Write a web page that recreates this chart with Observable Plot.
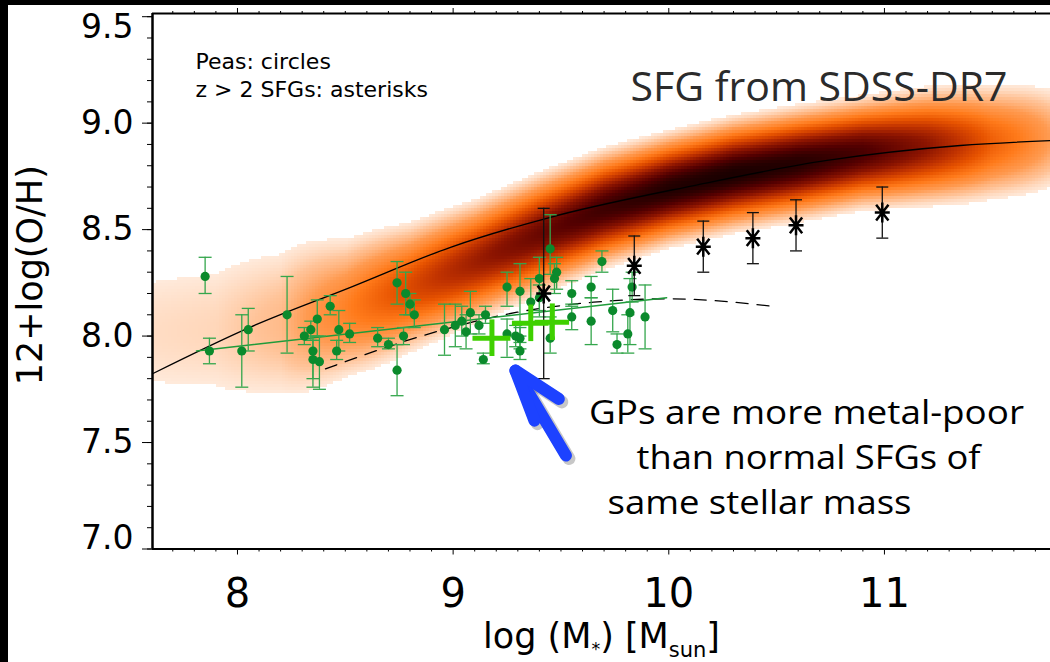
<!DOCTYPE html>
<html><head><meta charset="utf-8">
<script src="https://cdn.jsdelivr.net/npm/d3@7"></script>
<script src="https://cdn.jsdelivr.net/npm/@observablehq/plot@0.6"></script>
<style>
html,body{margin:0;padding:0;background:#fff;width:1050px;height:662px;overflow:hidden}
#wrap{position:relative;width:1050px;height:662px}
#wrap svg{position:absolute;left:0;top:0}
.bl{position:absolute;background:#000}
</style></head>
<body><div id="wrap"></div>
<script>
// ---- axes ----
const xMajor = [8, 9, 10, 11];
const yMajorMid = [7.5, 8.0, 8.5, 9.0];
const yMajorTop = [9.5];
const yMajorBottom = [7.0];
const xDomain = [7.606, 11.77];
const yDomain = [7.0, 9.515];

// ---- Green Peas (circles) ----
const peaX  = [7.85,7.87,8.02,8.05,8.23,8.31,8.34,8.37,8.35,8.35,8.38,8.43,8.47,8.46,8.52,8.65,8.70,8.74,8.78,8.80,8.82,8.77,8.74,8.96,9.01,9.04,9.06,9.08,9.12,9.15,9.14,
               9.25,9.31,9.25,9.29,9.31,9.31,9.36,9.40,9.40,9.45,9.47,9.48,9.45,9.55,9.55,9.64,9.64,9.69,9.74,9.76,9.81,9.82,9.83,9.89];
const peaY  = [8.28,7.93,7.93,8.03,8.10,8.00,8.03,8.08,7.93,7.89,7.88,8.14,8.03,7.93,8.01,7.99,7.96,8.25,8.20,8.15,8.10,8.00,7.84,8.03,8.05,8.07,8.02,8.11,8.05,8.10,7.89,
               8.23,8.21,8.01,8.00,7.99,7.93,8.16,8.27,8.18,8.41,8.27,8.30,7.99,8.20,8.09,8.23,8.07,8.35,8.12,7.96,8.01,8.11,8.23,8.09];
const peaLo = [8.20,7.87,7.76,7.93,7.92,7.96,7.98,8.00,7.76,7.80,7.75,8.10,7.93,7.89,7.97,7.95,7.94,8.15,8.10,8.10,8.04,7.96,7.72,7.91,7.95,8.00,7.94,8.01,8.01,8.06,7.87,
               8.14,8.00,7.90,7.95,7.94,7.89,8.06,8.09,8.12,8.29,8.20,8.22,7.92,8.15,8.03,8.18,7.96,8.30,8.02,7.92,7.92,7.96,8.16,7.94];
const peaHi = [8.37,7.99,8.10,8.13,8.28,8.04,8.07,8.17,8.00,7.98,8.00,8.19,8.12,7.98,8.06,8.04,7.99,8.35,8.30,8.20,8.17,8.04,7.96,8.15,8.15,8.14,8.10,8.21,8.10,8.14,7.92,
               8.30,8.34,8.08,8.05,8.04,7.97,8.27,8.37,8.24,8.57,8.34,8.37,8.09,8.26,8.14,8.28,8.18,8.40,8.22,8.01,8.10,8.27,8.30,8.24];

// ---- z > 2 SFGs (asterisks) ----
const hzX  = [9.42, 9.84, 10.16, 10.39, 10.59, 10.99];
const hzY  = [8.20, 8.33, 8.42, 8.46, 8.52, 8.58];
const hzLo = [7.80, 8.19, 8.30, 8.34, 8.40, 8.46];
const hzHi = [8.60, 8.47, 8.54, 8.58, 8.64, 8.70];

// ---- GP stacked means (big crosses) ----
const gpX  = [9.18, 9.36, 9.46];
const gpY  = [7.99, 8.06, 8.065];
const gpDx = [0.088, 0.085, 0.08];
const gpDy = [0.086, 0.086, 0.086];

// ---- relations ----
const mzrX = [7.606, 8.06, 8.524, 8.988, 9.451, 10.116, 10.734, 11.352, 11.77];
const mzrY = [7.823, 8.042, 8.229, 8.417, 8.558, 8.707, 8.825, 8.895, 8.918];
const dashX = [8.408, 8.941, 9.297, 9.652, 10.008, 10.487];
const dashY = [7.846, 8.026, 8.112, 8.159, 8.175, 8.139];
const peaFitX = [7.81, 9.99];
const peaFitY = [7.93, 8.18];

// ---- SDSS-DR7 SFG cloud (ridge, spread, relative density read per mass bin) ----
const sdssX     = [7.6, 7.9, 8.2, 8.5, 8.8, 9.1, 9.4, 9.7, 10.0, 10.3, 10.6, 10.9, 11.2, 11.5, 11.8];
const sdssRidge = [8.02,8.03,8.06,8.13,8.23,8.35,8.48,8.60,8.69,8.76,8.81,8.86,8.89,8.91,8.93];
const sdssWidth = [0.26,0.25,0.22,0.16,0.13,0.115,0.11,0.105,0.10,0.10,0.10,0.10,0.11,0.12,0.13];
const sdssPeak  = [0.03,0.035,0.06,0.16,0.32,0.50,0.68,0.85,0.97,1.00,0.95,0.80,0.55,0.25,0.08];

const densStops  = [0.02, 0.05, 0.1, 0.18, 0.28, 0.4, 0.55, 0.75, 0.9, 1.0];
const densColors = ["#ffeadb","#ffc398","#ff9a50","#ff7a1a","#e85400","#c03200","#8c1400","#560000","#300000","#1a0000"];

function lerp(arr, x) {
  const n = sdssX.length;
  if (x <= sdssX[0]) return arr[0];
  if (x >= sdssX[n - 1]) return arr[n - 1];
  const i = d3.bisectRight(sdssX, x) - 1;
  const t = (x - sdssX[i]) / (sdssX[i + 1] - sdssX[i]);
  return arr[i] + (arr[i + 1] - arr[i]) * t;
}
function sdssDensity(x, y) {
  const c = lerp(sdssRidge, x), w = lerp(sdssWidth, x), p = lerp(sdssPeak, x);
  const d = p * Math.exp(-0.5 * ((y - c) / w) ** 2);
  return d < 0.02 ? NaN : d;
}

const peas = peaX.map((x, i) => ({x, y: peaY[i], lo: peaLo[i], hi: peaHi[i]}));
const hz = hzX.map((x, i) => ({x, y: hzY[i], lo: hzLo[i], hi: hzHi[i]}));
const gp = gpX.map((x, i) => ({x, y: gpY[i], dx: gpDx[i], dy: gpDy[i]}));
const mzr = mzrX.map((x, i) => ({x, y: mzrY[i]}));
const dash = dashX.map((x, i) => ({x, y: dashY[i]}));
const peaFit = peaFitX.map((x, i) => ({x, y: peaFitY[i]}));

const capSymbol = {draw(ctx, size) { const r = Math.sqrt(size / Math.PI); ctx.moveTo(-r, 0); ctx.lineTo(r, 0); }};
const starSymbol = {draw(ctx, size) {
  const r = Math.sqrt(size / Math.PI);
  ctx.moveTo(-0.75 * r, 0); ctx.lineTo(0.75 * r, 0);
  ctx.moveTo(0, -r); ctx.lineTo(0, r);
  const a = 52 * Math.PI / 180, cx = Math.cos(a) * r, cy = Math.sin(a) * r;
  ctx.moveTo(-cx, -cy); ctx.lineTo(cx, cy);
  ctx.moveTo(-cx, cy); ctx.lineTo(cx, -cy);
}};

const xMinor = d3.range(7.7, 11.75, 0.1).filter(v => Math.abs(v - Math.round(v)) > 1e-6);
const yMinor = d3.range(7.0, 9.52, 0.1);

const green = "#0b8a2c", greenBar = "#34a64c", brightGreen = "#3fd000";

const chart = Plot.plot({
  width: 1050, height: 662,
  marginLeft: 152, marginRight: 0, marginTop: 13, marginBottom: 113.5,
  x: {domain: xDomain},
  y: {domain: yDomain},
  color: {type: "linear", domain: densStops, range: densColors},
  style: {background: "#fff", fontFamily: "DejaVu Sans", fontSize: "10px", overflow: "visible"},
  marks: [
    Plot.raster({x1: xDomain[0], x2: xDomain[1], y1: yDomain[0], y2: yDomain[1], fill: sdssDensity, pixelSize: 3, imageRendering: "pixelated"}),
    Plot.line(mzr, {x: "x", y: "y", curve: "monotone-x", stroke: "#000", strokeWidth: 1.3}),
    Plot.line(dash, {x: "x", y: "y", curve: "monotone-x", stroke: "#000", strokeWidth: 1.3, strokeDasharray: "12,9"}),
    Plot.line(peaFit, {x: "x", y: "y", stroke: "#1f9b3a", strokeWidth: 1.5}),
    Plot.ruleX(peas, {x: "x", y1: "lo", y2: "hi", stroke: greenBar, strokeWidth: 1.3}),
    Plot.dot(peas, {x: "x", y: "lo", symbol: capSymbol, r: 6.5, fill: "none", stroke: greenBar, strokeWidth: 1.3}),
    Plot.dot(peas, {x: "x", y: "hi", symbol: capSymbol, r: 6.5, fill: "none", stroke: greenBar, strokeWidth: 1.3}),
    Plot.dot(peas, {x: "x", y: "y", r: 4.6, fill: green, stroke: "none"}),
    Plot.ruleX(hz, {x: "x", y1: "lo", y2: "hi", stroke: "#111", strokeWidth: 1.3}),
    Plot.dot(hz, {x: "x", y: "lo", symbol: capSymbol, r: 6, fill: "none", stroke: "#111", strokeWidth: 1.3}),
    Plot.dot(hz, {x: "x", y: "hi", symbol: capSymbol, r: 6, fill: "none", stroke: "#111", strokeWidth: 1.3}),
    Plot.dot(hz, {x: "x", y: "y", symbol: starSymbol, r: 10, fill: "none", stroke: "#000", strokeWidth: 2.5}),
    Plot.ruleY(gp, {y: "y", x1: d => d.x - d.dx, x2: d => d.x + d.dx, stroke: brightGreen, strokeWidth: 5}),
    Plot.ruleX(gp, {x: "x", y1: d => d.y - d.dy, y2: d => d.y + d.dy, stroke: brightGreen, strokeWidth: 5}),
    // frame lines
    Plot.ruleY([yDomain[0], yDomain[1]], {stroke: "#000", strokeWidth: 2}),
    Plot.ruleX([xDomain[0]], {stroke: "#000", strokeWidth: 2.5}),
    // axes
    Plot.axisX({anchor: "bottom", ticks: xMinor, tickSize: 3, tickFormat: () => "", label: null}),
    Plot.axisX({anchor: "bottom", ticks: xMajor, tickSize: 6, tickPadding: 24, fontSize: 40, tickFormat: d3.format("d"), label: null}),
    Plot.axisX({anchor: "top", ticks: xMinor, tickSize: 3, tickFormat: () => "", label: null}),
    Plot.axisX({anchor: "top", ticks: xMajor, tickSize: 6, tickFormat: () => "", label: null}),
    Plot.axisY({anchor: "left", ticks: yMinor, tickSize: 5, tickFormat: () => "", label: null}),
    Plot.axisY({anchor: "left", ticks: [...yMajorBottom, ...yMajorMid, ...yMajorTop], tickSize: 10, tickFormat: () => "", label: null}),
    Plot.axisY({anchor: "left", ticks: yMajorMid, tickSize: 0, tickPadding: 19, fontSize: 33, tickFormat: d3.format(".1f"), label: null}),
    Plot.axisY({anchor: "left", ticks: yMajorTop, tickSize: 0, tickPadding: 19, dy: 10.5, fontSize: 33, tickFormat: d3.format(".1f"), label: null}),
    Plot.axisY({anchor: "left", ticks: yMajorBottom, tickSize: 0, tickPadding: 19, dy: -11, fontSize: 33, tickFormat: d3.format(".1f"), label: null}),
    // axis titles
    Plot.text(["12+log(O/H)"], {frameAnchor: "left", rotate: -90, dx: -122, dy: -6, fontSize: 35, textAnchor: "middle", lineAnchor: "middle"}),
    Plot.text(["log (M*) [Msun]"], {frameAnchor: "bottom", dx: 0, dy: 98.5, fontSize: 35, textAnchor: "middle", lineAnchor: "bottom"}),
    // annotations
    Plot.text(["Peas: circles"], {frameAnchor: "top-left", dx: 43, dy: 55, fontSize: 22, textAnchor: "start", lineAnchor: "bottom"}),
    Plot.text(["z > 2 SFGs: asterisks"], {frameAnchor: "top-left", dx: 43, dy: 83.7, fontSize: 22, textAnchor: "start", lineAnchor: "bottom"}),
    Plot.text(["SFG from SDSS-DR7"], {frameAnchor: "top-left", dx: 478, dy: 87, fontSize: 40, fontFamily: "Open Sans", fill: "#2b2b2b", textAnchor: "start", lineAnchor: "bottom"}),
    Plot.text(["GPs are more metal-poor"], {frameAnchor: "top-left", dx: 654, dy: 410, fontSize: 32, fontFamily: "Open Sans", fill: "#000", textAnchor: "middle", lineAnchor: "bottom"}),
    Plot.text(["than normal SFGs of"], {frameAnchor: "top-left", dx: 656, dy: 455, fontSize: 32, fontFamily: "Open Sans", fill: "#000", textAnchor: "middle", lineAnchor: "bottom"}),
    Plot.text(["same stellar mass"], {frameAnchor: "top-left", dx: 455, dy: 500, fontSize: 32, fontFamily: "Open Sans", fill: "#000", textAnchor: "start", lineAnchor: "bottom"}),
    // blue arrow (shadow + arrow)
    Plot.line([{x: 9.523, y: 7.439, s: 0}, {x: 9.289, y: 7.838, s: 0}, {x: 9.377, y: 7.603, s: 1}, {x: 9.289, y: 7.838, s: 1}, {x: 9.490, y: 7.705, s: 1}],
      {x: "x", y: "y", z: "s", stroke: "#000", strokeOpacity: 0.22, strokeWidth: 13, strokeLinecap: "round", strokeLinejoin: "round", dx: 3, dy: 3}),
    Plot.line([{x: 9.523, y: 7.439, s: 0}, {x: 9.289, y: 7.838, s: 0}, {x: 9.377, y: 7.603, s: 1}, {x: 9.289, y: 7.838, s: 1}, {x: 9.490, y: 7.705, s: 1}],
      {x: "x", y: "y", z: "s", stroke: "#1d42ff", strokeWidth: 12, strokeLinecap: "round", strokeLinejoin: "round"})
  ]
});

const svgSel = d3.select(chart);
// subscripts in the x-axis title
svgSel.selectAll("text").filter(function() { return this.textContent === "log (M*) [Msun]"; }).each(function() {
  const t = d3.select(this);
  t.text(null);
  t.append("tspan").text("log (M");
  t.append("tspan").attr("font-size", "50%").attr("dy", "7").text("*");
  t.append("tspan").attr("dy", "-7").text(") [M");
  t.append("tspan").attr("font-size", "60%").attr("dy", "9").text("sun");
  t.append("tspan").attr("dy", "-9").text("]");
});
// slide-text widths (the slide font is horizontally wider than its height suggests)
const slideWidths = {"GPs are more metal-poor": 435, "than normal SFGs of": 344, "same stellar mass": 304, "SFG from SDSS-DR7": 377};
svgSel.selectAll("text").each(function() {
  const w = slideWidths[this.textContent];
  if (w) d3.select(this).attr("textLength", w).attr("lengthAdjust", "spacingAndGlyphs");
});

const wrap = document.getElementById("wrap");
wrap.appendChild(chart);
for (const [l, t, w, h] of [[0, 0, 8, 662], [0, 0, 1050, 5]]) {
  const d = document.createElement("div");
  d.className = "bl";
  Object.assign(d.style, {left: l + "px", top: t + "px", width: w + "px", height: h + "px"});
  wrap.appendChild(d);
}
</script></body></html>
